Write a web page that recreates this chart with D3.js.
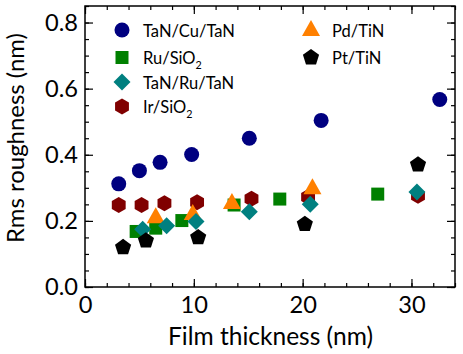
<!DOCTYPE html>
<html>
<head>
<meta charset="utf-8">
<script src="https://cdn.jsdelivr.net/npm/d3@7"></script>
<style>
  body { margin: 0; background: #fff; }
  svg text { font-family: Lato, "Open Sans", sans-serif; fill: #000; }
</style>
</head>
<body>
<div id="chart"></div>
<script>
// data: film thickness (nm) and rms roughness (nm)
var cuX = [3.1, 5.0, 6.9, 9.8, 15.1, 21.7, 32.6];
var cuY = [0.312, 0.352, 0.377, 0.401, 0.45, 0.504, 0.567];

var irX = [3.1, 5.2, 7.3, 10.3, 15.3, 20.5, 30.6];
var irY = [0.248, 0.248, 0.253, 0.256, 0.267, 0.272, 0.276];

var ruX = [4.7, 6.5, 8.9, 13.7, 17.9, 26.9];
var ruY = [0.168, 0.178, 0.201, 0.248, 0.266, 0.281];

var pdX = [6.5, 9.9, 13.5, 20.9];
var pdY = [0.211, 0.221, 0.254, 0.299];

var tarX = [5.3, 7.5, 10.2, 15.1, 20.7, 30.5];
var tarY = [0.175, 0.185, 0.198, 0.228, 0.25, 0.287];

var ptX = [3.5, 5.6, 10.4, 20.2, 30.6];
var ptY = [0.12, 0.14, 0.15, 0.19, 0.37];

var xTicks = [0, 10, 20, 30];
var yTicks = [0, 0.2, 0.4, 0.6, 0.8];

var svgWidth = 463, svgHeight = 354;
var margin = {top: 6, right: 8, bottom: 67, left: 85};
var chartWidth = svgWidth - margin.left - margin.right;
var chartHeight = svgHeight - margin.top - margin.bottom;

var svg = d3.select("#chart").append("svg")
    .attr("width", svgWidth)
    .attr("height", svgHeight);

var chartGroup = svg.append("g")
    .attr("transform", `translate(${margin.left}, ${margin.top})`);

var xScale = d3.scaleLinear().domain([0, 34]).range([0, chartWidth]);
var yScale = d3.scaleLinear().domain([0, 0.85]).range([chartHeight, 0]);

// size a font so that a sample string gets the wanted width
function fitSize(sample, width) {
    var t = svg.append("text").attr("font-size", "20px").text(sample);
    var w = t.node().getComputedTextLength();
    t.remove();
    return 20 * width / w;
}
var tickSize = fitSize("0.8", 33);
var legendSize = fitSize("TaN/Cu/TaN", 92);
var xTitleSize = fitSize("Film thickness (nm)", 205);
var yTitleSize = fitSize("Rms roughness (nm)", 210);

// marker shapes
function poly(n, r, rot) {
    var pts = [];
    for (var i = 0; i < n; i++) {
        var a = rot + i * 2 * Math.PI / n;
        pts.push([r * Math.cos(a), r * Math.sin(a)]);
    }
    return "M" + pts.map(p => p[0].toFixed(2) + "," + p[1].toFixed(2)).join("L") + "Z";
}
var shapes = {
    circle: "M7.5,0A7.5,7.5 0 1,1 -7.5,0A7.5,7.5 0 1,1 7.5,0Z",
    square: "M-6.5,-6.5H6.5V6.5H-6.5Z",
    diamond: "M0,-8.5L8.5,0L0,8.5L-8.5,0Z",
    hexagon: poly(6, 8, -Math.PI / 2),
    triangle: "M0,-10L9,6L-9,6Z",
    pentagon: poly(5, 8.5, -Math.PI / 2)
};

var series = [
    {name: "TaN/Cu/TaN", x: cuX, y: cuY, shape: "circle", color: "#000080"},
    {name: "Ir/SiO2", x: irX, y: irY, shape: "hexagon", color: "#800000"},
    {name: "Ru/SiO2", x: ruX, y: ruY, shape: "square", color: "#008000"},
    {name: "Pd/TiN", x: pdX, y: pdY, shape: "triangle", color: "#ff8000"},
    {name: "TaN/Ru/TaN", x: tarX, y: tarY, shape: "diamond", color: "#008080"},
    {name: "Pt/TiN", x: ptX, y: ptY, shape: "pentagon", color: "#000000"}
];

// frame
chartGroup.append("rect")
    .attr("width", chartWidth).attr("height", chartHeight)
    .attr("fill", "none").attr("stroke", "#000").attr("stroke-width", 1.5);

// ticks: major + minor, inward, on all four sides
function tickLines(axisFn, scale, major, minor, pos) {
    var g = chartGroup.append("g").attr("transform", pos)
        .call(axisFn(scale).tickValues(minor).tickSize(-4).tickFormat(""));
    g.select(".domain").remove();
    var g2 = chartGroup.append("g").attr("transform", pos)
        .call(axisFn(scale).tickValues(major).tickSize(-8).tickFormat(""));
    g2.select(".domain").remove();
}
var xMinor = d3.range(0, 34.01, 2);
var yMinor = d3.range(0, 0.851, 0.05);
tickLines(d3.axisBottom, xScale, xTicks, xMinor, `translate(0,${chartHeight})`);
tickLines(d3.axisTop, xScale, xTicks, xMinor, "translate(0,0)");
tickLines(d3.axisLeft, yScale, yTicks, yMinor, "translate(0,0)");
tickLines(d3.axisRight, yScale, yTicks, yMinor, `translate(${chartWidth},0)`);
chartGroup.selectAll(".tick line").attr("stroke", "#000").attr("stroke-width", 1.2);

// tick labels
var xAxis = d3.axisBottom(xScale).tickValues(xTicks).tickSize(0).tickPadding(9);
var xg = chartGroup.append("g").attr("transform", `translate(0,${chartHeight})`).call(xAxis);
xg.select(".domain").remove();
xg.selectAll("text").attr("font-size", tickSize + "px").attr("font-family", null);

var yAxis = d3.axisLeft(yScale).tickValues(yTicks).tickSize(0).tickPadding(7).tickFormat(d3.format(".1f"));
var yg = chartGroup.append("g").call(yAxis);
yg.select(".domain").remove();
yg.selectAll("text").attr("font-size", tickSize + "px").attr("font-family", null);

// points
series.forEach(function(s) {
    var pts = s.x.map((v, i) => [v, s.y[i]]);
    chartGroup.append("g").selectAll("path")
        .data(pts).enter().append("path")
        .attr("d", shapes[s.shape])
        .attr("transform", d => `translate(${xScale(d[0])},${yScale(d[1])})`)
        .attr("fill", s.color);
});

// legend
var legendItems = [
    {name: "TaN/Cu/TaN", col: 0, row: 0},
    {name: "Ru/SiO2", col: 0, row: 1},
    {name: "TaN/Ru/TaN", col: 0, row: 2},
    {name: "Ir/SiO2", col: 0, row: 3},
    {name: "Pd/TiN", col: 1, row: 0},
    {name: "Pt/TiN", col: 1, row: 1}
];
var rowY = [24, 51.5, 76, 100.5];
var legend = chartGroup.append("g");
legendItems.forEach(function(it) {
    var s = series.find(d => d.name === it.name);
    var lx = it.col === 0 ? 37 : 226;
    var ly = rowY[it.row];
    legend.append("path")
        .attr("d", shapes[s.shape])
        .attr("transform", `translate(${lx},${ly})`)
        .attr("fill", s.color);
    var t = legend.append("text")
        .attr("x", lx + 21).attr("y", ly + 6.5)
        .attr("font-size", legendSize + "px");
    if (it.name.indexOf("SiO2") >= 0) {
        t.append("tspan").text(it.name.replace("SiO2", "SiO"));
        t.append("tspan").attr("font-size", (legendSize * 0.65) + "px").attr("dy", 5).text("2");
    } else {
        t.text(it.name);
    }
});

// axis titles
svg.append("text")
    .attr("x", 270.5).attr("y", 345)
    .attr("text-anchor", "middle").attr("font-size", xTitleSize + "px")
    .text("Film thickness (nm)");

svg.append("text")
    .attr("transform", `translate(24, ${138}) rotate(-90)`)
    .attr("text-anchor", "middle").attr("font-size", yTitleSize + "px")
    .text("Rms roughness (nm)");
</script>
</body>
</html>
